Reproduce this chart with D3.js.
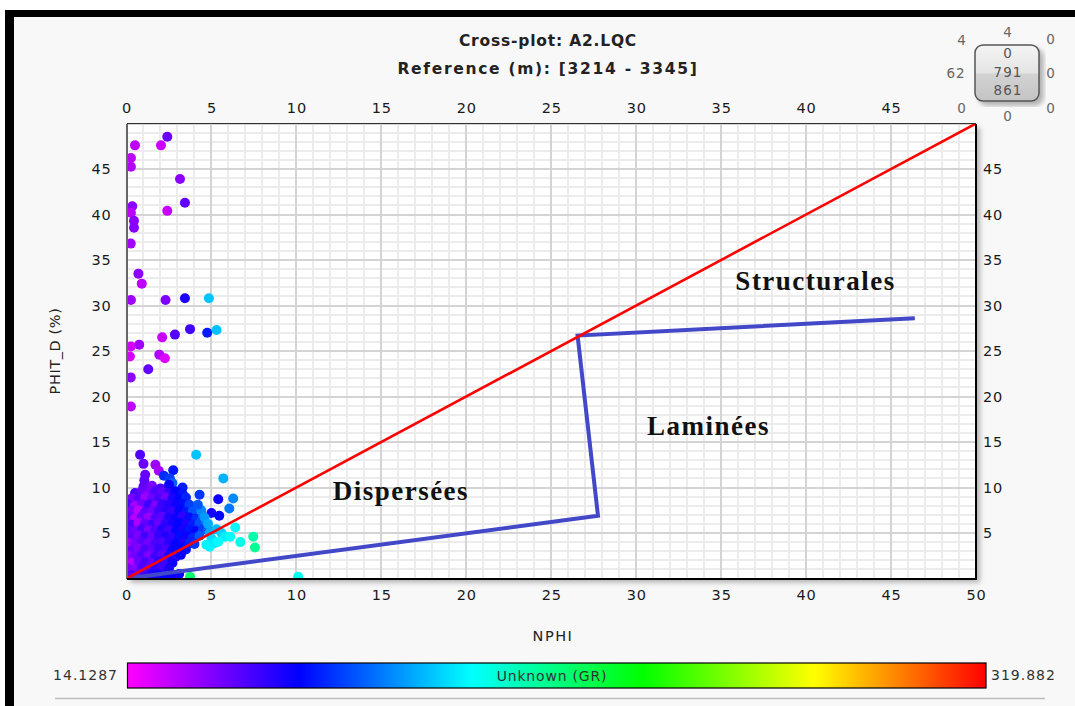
<!DOCTYPE html>
<html><head><meta charset="utf-8">
<script src="https://cdn.jsdelivr.net/npm/d3@7"></script>
<style>body{margin:0;background:#fff}svg{display:block}</style>
</head><body><svg id="c" width="1075" height="706"></svg>
<script>
// ---------- data ----------
const titleText = "Cross-plot: A2.LQC";
const subtitleText = "Reference (m): [3214 - 3345]";
const xLabelText = "NPHI";
const yLabelText = "PHIT_D (%)";
const colorLabelText = "Unknown (GR)";
const xDomain = [0, 50];
const yDomain = [0, 50];
const bottomTicks = [0, 5, 10, 15, 20, 25, 30, 35, 40, 45, 50];
const topTicks = [0, 5, 10, 15, 20, 25, 30, 35, 40, 45];
const yTicks = [5, 10, 15, 20, 25, 30, 35, 40, 45];
const grRange = [14.1287, 319.882];
const grLabels = ["14.1287", "319.882"];
const colorStops = ["#ff00ff", "#0000ff", "#00ffff", "#00ff00", "#ffff00", "#ff0000"];

// [NPHI, PHIT_D, GR]
const outlierPoints = [
  [2.4,48.55,50],[0.5,47.6,30],[2.03,47.6,26],[0.26,46.2,30],[0.26,45.25,32],
  [3.15,43.9,42],[3.44,41.3,52],[0.34,40.9,42],[0.26,40.2,30],[2.4,40.4,27],
  [0.44,39.3,42],[0.44,38.55,43],[0.25,36.8,36],[0.7,33.5,42],[0.9,32.4,30],
  [0.26,30.6,37],[2.3,30.6,45],[3.44,30.8,68],[4.85,30.8,122],[3.74,27.4,60],
  [2.85,26.8,55],[4.75,27.0,82],[5.3,27.3,122],[2.1,26.5,27],[0.75,25.7,37],
  [0.26,25.5,25],[1.93,24.6,33],[2.26,24.2,22],[0.2,24.4,24],[1.28,23.0,52],
  [0.25,22.1,42],[0.26,18.9,30]
];
const upperClusterPoints = [
  [0.8,13.6,56],[4.1,13.6,122],[1.0,12.6,50],[1.7,12.5,38],[1.9,11.85,35],
  [2.75,11.9,80],[1.1,11.4,50],[2.2,11.3,86],[2.55,11.0,90],[2.7,10.5,98],
  [1.05,10.8,52],[5.7,11.0,118],[3.3,10.0,82]
];
const clusterPoints = [
  [1.0,10.1,52],[1.5,10.2,46],[2.0,9.9,58],[2.5,10.3,72],
  [0.5,9.4,58],[0.9,9.6,50],[1.3,9.4,46],[1.7,9.6,56],[2.1,9.5,52],[2.5,9.4,64],[2.9,9.6,74],[3.3,9.3,80],
  [0.3,8.8,46],[0.7,8.7,54],[1.1,8.9,38],[1.5,8.8,50],[1.9,8.7,58],[2.3,8.9,48],[2.7,8.8,68],[3.1,8.7,76],[3.5,8.9,84],
  [0.1,8.1,56],[0.5,8.0,36],[0.9,8.2,48],[1.3,8.1,60],[1.7,8.0,44],[2.1,8.2,62],[2.5,8.1,66],[2.9,8.0,72],[3.3,8.2,78],[3.7,8.1,90],
  [0.0,7.3,52],[0.3,7.4,46],[0.7,7.5,30],[1.1,7.3,54],[1.5,7.4,48],[1.9,7.5,60],[2.3,7.3,66],[2.7,7.4,62],[3.1,7.5,74],[3.5,7.3,80],[3.9,7.4,95],
  [0.1,6.7,50],[0.5,6.6,32],[0.9,6.8,50],[1.3,6.7,40],[1.7,6.6,56],[2.1,6.8,54],[2.5,6.7,68],[2.9,6.6,72],[3.3,6.8,64],[3.7,6.7,78],[4.1,6.6,86],[4.5,6.8,102],
  [0.0,6.0,48],[0.3,5.9,56],[0.7,6.1,34],[1.1,6.0,52],[1.5,5.9,60],[1.9,6.1,50],[2.3,6.0,64],[2.7,5.9,70],[3.1,6.1,76],[3.5,6.0,68],[3.9,5.9,82],[4.3,6.1,94],[4.7,6.0,104],
  [0.1,5.3,54],[0.5,5.2,48],[0.9,5.4,58],[1.3,5.3,46],[1.7,5.2,56],[2.1,5.4,66],[2.5,5.3,60],[2.9,5.2,74],[3.3,5.4,70],[3.7,5.3,80],[4.1,5.2,76],[4.5,5.4,90],[4.8,5.3,98],
  [0.0,4.6,40],[0.3,4.5,52],[0.7,4.7,46],[1.1,4.6,60],[1.5,4.5,50],[1.9,4.7,62],[2.3,4.6,68],[2.7,4.5,64],[3.1,4.7,78],[3.5,4.6,72],[3.9,4.5,84],[4.3,4.7,96],
  [0.1,3.9,36],[0.5,3.8,46],[0.9,4.0,54],[1.3,3.9,48],[1.7,3.8,58],[2.1,4.0,56],[2.5,3.9,66],[2.9,3.8,74],[3.3,4.0,70],[3.7,3.9,82],[4.0,3.8,88],
  [0.0,3.2,30],[0.3,3.1,50],[0.7,3.3,44],[1.1,3.2,56],[1.5,3.1,52],[1.9,3.3,62],[2.3,3.2,58],[2.7,3.1,72],[3.1,3.3,76],[3.5,3.2,80],
  [0.1,2.5,40],[0.5,2.4,48],[0.9,2.6,56],[1.3,2.5,46],[1.7,2.4,60],[2.1,2.6,54],[2.5,2.5,68],[2.9,2.4,66],[3.2,2.6,74],
  [0.0,1.8,42],[0.3,1.7,30],[0.7,1.9,50],[1.1,1.8,58],[1.5,1.7,52],[1.9,1.9,64],[2.3,1.8,62],[2.7,1.7,72],
  [0.1,1.1,46],[0.5,1.0,42],[0.9,1.2,56],[1.3,1.1,52],[1.7,1.0,64],[2.1,1.2,60],[2.5,1.1,70],
  [0.3,0.4,54],[0.7,0.5,50],[1.1,0.4,60],[1.5,0.5,68],[1.9,0.4,72],[2.3,0.5,66],[2.7,0.4,74],[3.1,0.5,78]
];
const rightPoints = [
  [4.3,9.2,88],[5.4,8.7,72],[6.28,8.8,108],[6.05,7.7,104],[5.0,7.2,70],[5.46,6.9,76],
  [4.4,7.5,108],[4.6,6.7,112],[4.8,6.0,116],[4.2,8.1,96],
  [4.9,5.0,116],[5.3,5.4,120],[5.0,4.4,128],[5.6,5.0,126],[5.8,4.6,132],[4.7,3.7,134],
  [4.9,3.5,134],[5.2,3.9,132],[5.4,4.05,136],[6.1,4.6,138],[6.4,5.6,136],[6.7,4.0,142],
  [7.46,4.6,156],[7.56,3.4,162],
  [1.7,0.15,70],[2.3,0.15,76],[3.0,0.15,72],[3.74,0.2,172],[10.1,0.2,140]
];
const redLine = [[0, 0], [50, 50]];
const blueLine = [[0, 0], [27.75, 6.9], [26.55, 26.7], [46.4, 28.6]];
const zoneLabels = [
  {text: "Structurales", x: 40.56, y: 31.7},
  {text: "Laminées", x: 34.26, y: 15.77},
  {text: "Dispersées", x: 16.15, y: 8.63}
];
const widgetInner = ["0", "791", "861"];
const widgetOuter = ["4", "4", "0", "62", "0", "0", "0", "0"]; // TL, T, TR, L, R, BL, B, BR

// ---------- drawing ----------
const svg = d3.select("#c");
const W = 1075, H = 706;
const P = {l: 126.5, r: 976, t: 123.5, b: 578.5};
const x = d3.scaleLinear(xDomain, [P.l, P.r]);
const y = d3.scaleLinear(yDomain, [P.b, P.t]);
const color = d3.scaleLinear()
  .domain(colorStops.map((_, i) => grRange[0] + (grRange[1] - grRange[0]) * i / (colorStops.length - 1)))
  .range(colorStops).interpolate(d3.interpolateRgb).clamp(true);

const defs = svg.append("defs");
const f = defs.append("filter").attr("id", "sh").attr("x", "-5%").attr("y", "-5%").attr("width", "115%").attr("height", "115%");
f.append("feDropShadow").attr("dx", 4).attr("dy", 4).attr("stdDeviation", 2.5).attr("flood-color", "#777").attr("flood-opacity", 0.55);
const cg = defs.append("linearGradient").attr("id", "cbar");
colorStops.forEach((c, i) => cg.append("stop").attr("offset", i / (colorStops.length - 1)).attr("stop-color", c));
const wg = defs.append("linearGradient").attr("id", "wg").attr("x1", 0).attr("x2", 0).attr("y1", 0).attr("y2", 1);
[[0, "#f4f4f4"], [0.5, "#e4e4e4"], [0.52, "#d2d2d2"], [1, "#c4c4c4"]].forEach(s => wg.append("stop").attr("offset", s[0]).attr("stop-color", s[1]));
const clip = defs.append("clipPath").attr("id", "pc");
clip.append("rect").attr("x", P.l).attr("y", P.t).attr("width", P.r - P.l).attr("height", P.b - P.t);

// background + frame
svg.append("rect").attr("width", W).attr("height", H).attr("fill", "#fff");
svg.append("rect").attr("x", 5).attr("y", 10).attr("width", W - 5).attr("height", H - 10).attr("fill", "#000");
svg.append("rect").attr("x", 14).attr("y", 17).attr("width", W - 14).attr("height", H - 17).attr("fill", "#f8f8f8");

// titles
svg.append("text").attr("x", 548).attr("y", 46).attr("text-anchor", "middle")
  .attr("font-family", "DejaVu Sans").attr("font-weight", "bold").attr("font-size", 15.5).attr("letter-spacing", 0.8)
  .attr("fill", "#222").text(titleText);
svg.append("text").attr("x", 548).attr("y", 74).attr("text-anchor", "middle")
  .attr("font-family", "DejaVu Sans").attr("font-weight", "bold").attr("font-size", 15.5).attr("letter-spacing", 1.7)
  .attr("fill", "#222").text(subtitleText);

// plot area
svg.append("rect").attr("x", P.l).attr("y", P.t).attr("width", P.r - P.l).attr("height", P.b - P.t)
  .attr("fill", "#fff").attr("filter", "url(#sh)");
const grid = svg.append("g").attr("shape-rendering", "crispEdges");
const gx = d3.range(xDomain[0], xDomain[1] + 1, 1), gy = d3.range(yDomain[0], yDomain[1] + 1, 1);
grid.selectAll(".vx").data(gx.filter(v => v % 5 !== 0)).join("line")
  .attr("x1", d => x(d)).attr("x2", d => x(d)).attr("y1", P.t).attr("y2", P.b).attr("stroke", "#ececec").attr("stroke-width", 2);
grid.selectAll(".hy").data(gy.filter(v => v % 5 !== 0)).join("line")
  .attr("y1", d => y(d)).attr("y2", d => y(d)).attr("x1", P.l).attr("x2", P.r).attr("stroke", "#ececec").attr("stroke-width", 2);
grid.selectAll(".vX").data(gx.filter(v => v % 5 === 0)).join("line")
  .attr("x1", d => x(d)).attr("x2", d => x(d)).attr("y1", P.t).attr("y2", P.b).attr("stroke", "#d4d4d4").attr("stroke-width", 2);
grid.selectAll(".hY").data(gy.filter(v => v % 5 === 0)).join("line")
  .attr("y1", d => y(d)).attr("y2", d => y(d)).attr("x1", P.l).attr("x2", P.r).attr("stroke", "#d4d4d4").attr("stroke-width", 2);

// points
const pts = svg.append("g").attr("clip-path", "url(#pc)");
const allPoints = [...outlierPoints, ...upperClusterPoints, ...clusterPoints, ...rightPoints];
pts.selectAll("circle").data(allPoints).join("circle")
  .attr("cx", d => x(d[0])).attr("cy", d => y(d[1])).attr("r", 5)
  .attr("fill", d => color(d[2]));

// lines
const line = d3.line().x(d => x(d[0])).y(d => y(d[1]));
const lg = svg.append("g").attr("clip-path", "url(#pc)");
lg.append("path").attr("d", line(blueLine)).attr("fill", "none").attr("stroke", "#4248c8").attr("stroke-width", 4).attr("stroke-linejoin", "miter");
lg.append("path").attr("d", line(redLine)).attr("fill", "none").attr("stroke", "#ff0000").attr("stroke-width", 2.6);

// plot border
const bd = svg.append("g").attr("shape-rendering", "crispEdges");
bd.append("line").attr("x1", P.l).attr("x2", P.r).attr("y1", P.t).attr("y2", P.t).attr("stroke", "#333").attr("stroke-width", 1);
bd.append("line").attr("x1", P.l).attr("x2", P.l).attr("y1", P.t).attr("y2", P.b).attr("stroke", "#666").attr("stroke-width", 2);
bd.append("line").attr("x1", P.r).attr("x2", P.r).attr("y1", P.t).attr("y2", P.b + 1).attr("stroke", "#000").attr("stroke-width", 2);
bd.append("line").attr("x1", P.l).attr("x2", P.r + 1).attr("y1", P.b).attr("y2", P.b).attr("stroke", "#000").attr("stroke-width", 2);

// zone labels
svg.append("g").selectAll("text").data(zoneLabels).join("text")
  .attr("x", d => x(d.x)).attr("y", d => y(d.y)).attr("text-anchor", "middle")
  .attr("font-family", "Liberation Serif").attr("font-weight", "bold").attr("font-size", 27).attr("letter-spacing", 1.5)
  .attr("fill", "#111").text(d => d.text);

// axes
function styleAxis(g) {
  g.select(".domain").remove();
  g.selectAll("line").remove();
  g.selectAll("text").attr("font-family", "DejaVu Sans").attr("font-size", 14.5).attr("letter-spacing", 0.8).attr("fill", "#1a1a1a");
}
svg.append("g").attr("transform", `translate(0,${P.b})`)
  .call(d3.axisBottom(x).tickValues(bottomTicks).tickSize(0).tickPadding(11).tickFormat(d3.format("d"))).call(styleAxis);
svg.append("g").attr("transform", `translate(0,${P.t})`)
  .call(d3.axisTop(x).tickValues(topTicks).tickSize(0).tickPadding(11).tickFormat(d3.format("d"))).call(styleAxis);
svg.append("g").attr("transform", `translate(${P.l},0)`)
  .call(d3.axisLeft(y).tickValues(yTicks).tickSize(0).tickPadding(15).tickFormat(d3.format("d"))).call(styleAxis);
svg.append("g").attr("transform", `translate(${P.r},0)`)
  .call(d3.axisRight(y).tickValues(yTicks).tickSize(0).tickPadding(7).tickFormat(d3.format("d"))).call(styleAxis);

// axis titles
svg.append("text").attr("x", 553).attr("y", 641).attr("text-anchor", "middle")
  .attr("font-family", "DejaVu Sans").attr("font-size", 14.5).attr("letter-spacing", 1.5).attr("fill", "#222").text(xLabelText);
svg.append("text").attr("transform", "translate(60,351) rotate(-90)").attr("text-anchor", "middle")
  .attr("font-family", "DejaVu Sans").attr("font-size", 14.5).attr("letter-spacing", 0.6).attr("fill", "#222").text(yLabelText);

// colour bar
const cb = {x0: 127.5, x1: 986, y0: 663, y1: 688};
svg.append("rect").attr("x", cb.x0).attr("y", cb.y0).attr("width", cb.x1 - cb.x0).attr("height", cb.y1 - cb.y0)
  .attr("fill", "url(#cbar)").attr("stroke", "#000").attr("stroke-width", 1.2);
svg.append("text").attr("x", 552).attr("y", 681).attr("text-anchor", "middle")
  .attr("font-family", "DejaVu Sans").attr("font-size", 14).attr("letter-spacing", 0.8).attr("fill", "#333").text(colorLabelText);
svg.append("text").attr("x", 118).attr("y", 680).attr("text-anchor", "end")
  .attr("font-family", "DejaVu Sans").attr("font-size", 14).attr("letter-spacing", 1).attr("fill", "#333").text(grLabels[0]);
svg.append("text").attr("x", 991).attr("y", 680).attr("text-anchor", "start")
  .attr("font-family", "DejaVu Sans").attr("font-size", 14).attr("letter-spacing", 1).attr("fill", "#333").text(grLabels[1]);
svg.append("line").attr("x1", 55).attr("x2", 1045).attr("y1", 698.5).attr("y2", 698.5).attr("stroke", "#bbb").attr("stroke-width", 1.5);

// outlier counter widget
const wgG = svg.append("g");
wgG.append("rect").attr("x", 975).attr("y", 45).attr("width", 64).attr("height", 56).attr("rx", 8)
  .attr("fill", "url(#wg)").attr("stroke", "#555").attr("stroke-width", 1.5).attr("filter", "url(#sh)");
const innerY = [58, 77, 95];
wgG.selectAll(".wi").data(widgetInner).join("text").attr("x", 1008).attr("y", (d, i) => innerY[i])
  .attr("text-anchor", "middle").attr("font-family", "DejaVu Sans").attr("font-size", 13.5).attr("letter-spacing", 1)
  .attr("fill", "#555").text(d => d);
const outerPos = [[962, 45], [1008, 37], [1051, 44], [956, 78], [1051, 78], [962, 113], [1008, 121], [1051, 113]];
wgG.selectAll(".wo").data(widgetOuter).join("text").attr("x", (d, i) => outerPos[i][0]).attr("y", (d, i) => outerPos[i][1])
  .attr("text-anchor", "middle").attr("font-family", "DejaVu Sans").attr("font-size", 13.5).attr("letter-spacing", 1)
  .attr("fill", "#666").text(d => d);
</script></body></html>
